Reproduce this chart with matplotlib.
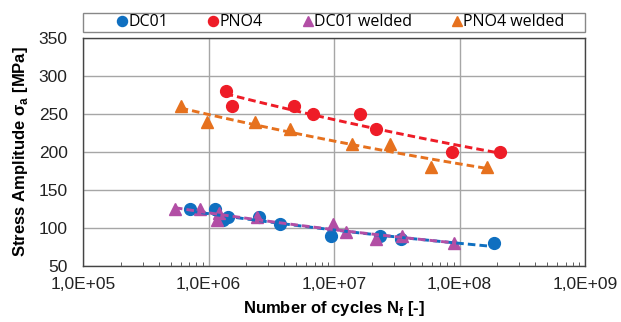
import numpy as np
import matplotlib
matplotlib.use('Agg')
import matplotlib.pyplot as plt
from matplotlib.ticker import FixedLocator, LogLocator, NullFormatter
from matplotlib.patches import Rectangle

plt.rcParams['font.family'] = ['Liberation Sans', 'DejaVu Sans']
plt.rcParams['mathtext.fontset'] = 'custom'
plt.rcParams['mathtext.rm'] = 'Liberation Sans'
plt.rcParams['mathtext.bf'] = 'Liberation Sans:bold'

# data
dc01_n = [7.1e5, 1.13e6, 1.31e6, 1.44e6, 2.54e6, 3.72e6, 9.4e6, 2.33e7, 3.4e7, 1.9e8]
dc01_s = [125, 125, 110, 115, 115, 105, 90, 90, 85, 80]

pno4_n = [1.37e6, 1.55e6, 4.83e6, 6.84e6, 1.61e7, 2.16e7, 8.7e7, 2.1e8]
pno4_s = [280, 260, 260, 250, 250, 230, 200, 200]

dc01w_n = [5.4e5, 8.5e5, 1.22e6, 1.17e6, 2.45e6, 9.8e6, 1.25e7, 2.16e7, 3.5e7, 9.0e7]
dc01w_s = [125, 125, 120, 110, 115, 105, 95, 85, 90, 80]

pno4w_n = [6.0e5, 9.7e5, 2.35e6, 4.46e6, 1.38e7, 2.8e7, 5.9e7, 1.65e8]
pno4w_s = [260, 240, 240, 230, 210, 210, 180, 180]

xtick_vals = [1e5, 1e6, 1e7, 1e8, 1e9]
xtick_labels = ['1,0E+05', '1,0E+06', '1,0E+07', '1,0E+08', '1,0E+09']

series = [
    ('DC01', dc01_n, dc01_s, 'o', '#0F6FC0'),
    ('PNO4', pno4_n, pno4_s, 'o', '#EE1C27'),
    ('DC01 welded', dc01w_n, dc01w_s, '^', '#B24EA5'),
    ('PNO4 welded', pno4w_n, pno4w_s, '^', '#E6711E'),
]

fig = plt.figure(figsize=(6.21, 3.22), dpi=100)
ax = fig.add_axes([83 / 621, 1 - 266 / 322, 502 / 621, 228 / 322])

for name, n, s, m, c in series:
    n = np.array(n)
    s = np.array(s)
    ax.plot(n, s, linestyle='none', marker=m, color=c, markersize=8.5 if m == 'o' else 9,
            label=name, zorder=3)
    # power trendline (log-log fit)
    b, a = np.polyfit(np.log10(n), np.log10(s), 1)
    xs = np.logspace(np.log10(n.min()), np.log10(n.max()), 50)
    ax.plot(xs, 10 ** a * xs ** b, linestyle=(0, (2.6, 1.4)), color=c, linewidth=2.1, zorder=4)

ax.set_xscale('log')
ax.set_xlim(1e5, 1e9)
ax.set_ylim(50, 350)
ax.set_yticks(range(50, 351, 50))
ax.xaxis.set_major_locator(FixedLocator(xtick_vals))
ax.set_xticklabels(xtick_labels)
ax.xaxis.set_minor_locator(LogLocator(base=10, subs=np.arange(2, 10)))
ax.xaxis.set_minor_formatter(NullFormatter())
ax.tick_params(axis='x', which='minor', direction='in', length=3, color='#444444')
ax.tick_params(axis='both', which='major', length=0, labelsize=12.5, colors='#222222')
ax.tick_params(axis='x', which='major', pad=8)
ax.tick_params(axis='y', which='major', pad=11)
ax.grid(True, which='major', color='#A6A6A6', linewidth=1)
ax.set_axisbelow(True)
for sp in ax.spines.values():
    sp.set_color('#444444')
    sp.set_linewidth(1)

ax.set_xlabel('Number of cycles N$_\\mathbf{f}$ [-]', fontsize=12, fontweight='bold', labelpad=5)
ax.set_ylabel('Stress Amplitude σ$_\\mathbf{a}$ [MPa]', fontsize=12, fontweight='bold', labelpad=6)

# legend frame spans the plot width
fig.patches.append(Rectangle((83 / 621, 1 - 31.7 / 322), 502 / 621, 19 / 322,
                             transform=fig.transFigure, fill=False,
                             edgecolor='#888888', linewidth=1))
leg = fig.legend(loc='center', bbox_to_anchor=(341 / 621, 1 - 22.2 / 322), ncol=4, frameon=False,
                 prop={'family': 'Open Sans', 'size': 11.5}, handlelength=0.6, handletextpad=0.1,
                 columnspacing=2.5, borderpad=0.1, markerscale=0.85)

fig.savefig('out.png', dpi=100)
